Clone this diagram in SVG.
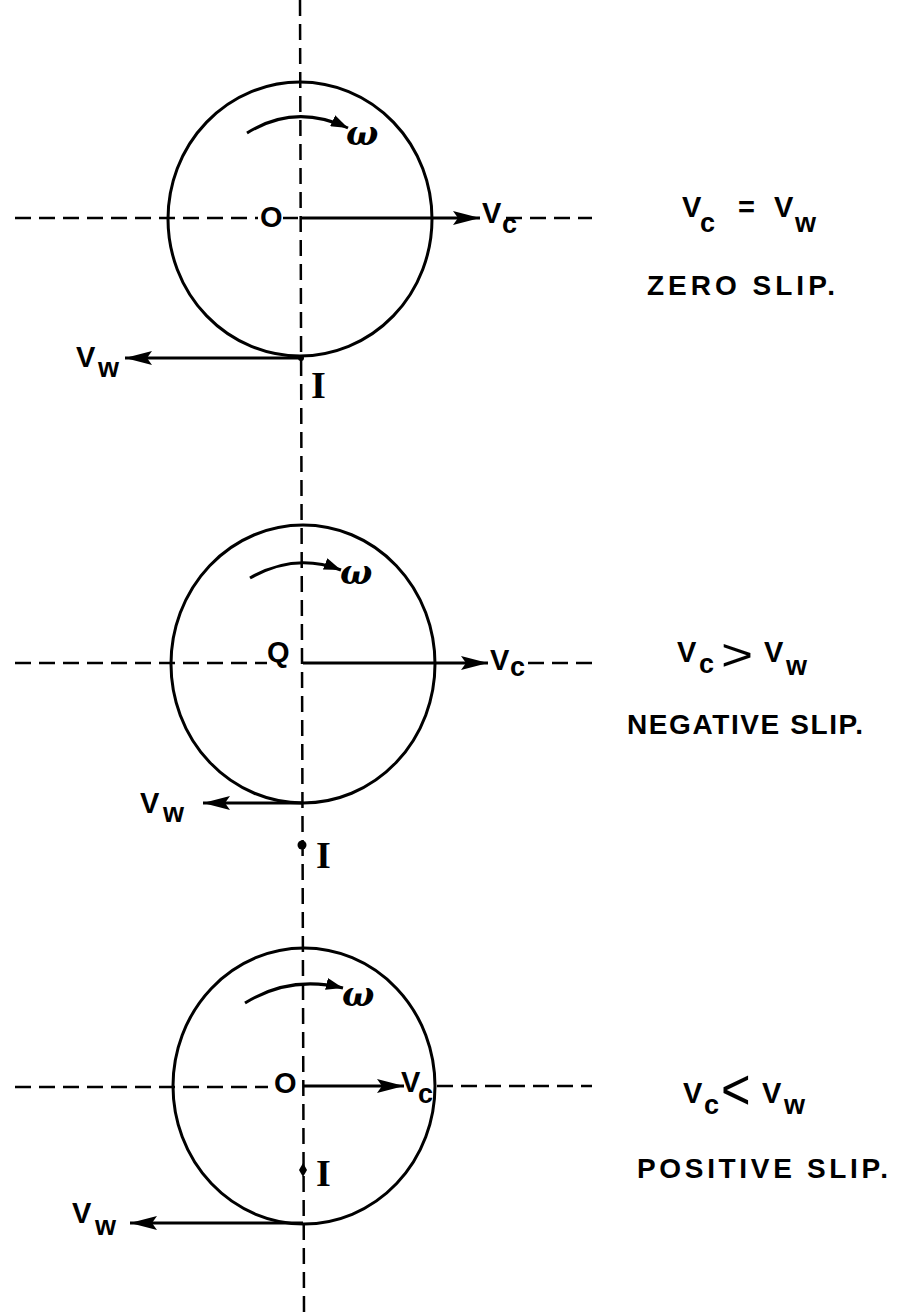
<svg xmlns="http://www.w3.org/2000/svg" width="897" height="1313" viewBox="0 0 897 1313">
<style>
.wheel{fill:none;stroke:#000;stroke-width:3}
.dash{fill:none;stroke:#000;stroke-width:2.5;stroke-dasharray:16 8}
.vec{fill:none;stroke:#000;stroke-width:3;marker-end:url(#ah)}
.rot{fill:none;stroke:#000;stroke-width:3;marker-end:url(#ahs)}
.lbl{font-family:"Liberation Sans",Arial,sans-serif;font-weight:bold;font-size:29px;fill:#000}
.sub{font-family:"Liberation Sans",Arial,sans-serif;font-weight:bold;font-size:27px;fill:#000}
.ser{font-family:"Liberation Serif","Times New Roman",serif;font-weight:bold;font-size:38px;fill:#000}
.om{font-family:"DejaVu Serif",serif;font-style:italic;font-weight:bold;font-size:34px;fill:#000}
.cap{font-family:"Liberation Sans",Arial,sans-serif;font-weight:bold;font-size:28px;fill:#000}
.rel{font-family:"Liberation Sans",Arial,sans-serif;font-size:44px;fill:#000}
</style>
<defs>
<marker id="ah" markerUnits="userSpaceOnUse" markerWidth="28" markerHeight="16" refX="27" refY="8" orient="auto"><path d="M0,1 L27,8 L0,15 L5,8 z" fill="#000"/></marker>
<marker id="ahs" markerUnits="userSpaceOnUse" markerWidth="18" markerHeight="12" refX="17" refY="6" orient="auto"><path d="M0,0 L17,6 L0,12 z" fill="#000"/></marker>
</defs>
<rect width="897" height="1313" fill="#fff"/>
<g id="connectors">
<path class="dash" d="M300,0 L304,1313"/>
<path class="dash" d="M15,218 H258 M283,218 H298"/>
<path class="dash" d="M506,218 H592"/>
<path class="dash" d="M15,663 H267"/>
<path class="dash" d="M528,663 H592"/>
<path class="dash" d="M15,1087 H268 M437,1086 H592"/>
</g>
<g id="wheel-zero">
<ellipse class="wheel" cx="300" cy="219" rx="132" ry="137"/>
<path class="rot" d="M247,133 Q295,103 348,128"/>
<text class="om" x="346" y="145">ω</text>
<text class="lbl" x="260" y="227">O</text>
<path class="vec" d="M300,218 H480"/>
<text class="lbl" x="482" y="223">V</text><text class="sub" x="502" y="233">c</text>
<path class="vec" d="M300,358 H125"/>
<text class="lbl" x="76" y="367">V</text><text class="sub" x="98" y="377">w</text>
<circle cx="301" cy="358" r="3"/>
<text class="ser" x="311" y="398">I</text>
</g>
<g id="wheel-negative">
<ellipse class="wheel" cx="303" cy="664" rx="132" ry="139"/>
<path class="rot" d="M250,578 Q295,552 341,570"/>
<text class="om" x="340" y="584">ω</text>
<text class="lbl" x="267" y="662">Q</text>
<path class="vec" d="M303,663 H488"/>
<text class="lbl" x="490" y="670">V</text><text class="sub" x="510" y="676">c</text>
<path class="vec" d="M303,803 H203"/>
<text class="lbl" x="140" y="813">V</text><text class="sub" x="163" y="822">w</text>
<circle cx="302" cy="845" r="4.5"/>
<text class="ser" x="316" y="868">I</text>
</g>
<g id="wheel-positive">
<ellipse class="wheel" cx="304" cy="1086" rx="131" ry="138"/>
<path class="rot" d="M245,1003 Q290,975 343,988"/>
<text class="om" x="342" y="1006">ω</text>
<text class="lbl" x="274" y="1093">O</text>
<path class="vec" d="M303,1086 H404"/>
<text class="lbl" x="401" y="1092">V</text><text class="sub" x="418" y="1103">c</text>
<path class="vec" d="M303,1223 H130"/>
<text class="lbl" x="72" y="1223">V</text><text class="sub" x="95" y="1235">w</text>
<path d="M303,1163 L307,1170 L303,1177 L299,1170 z" fill="#000"/>
<text class="ser" x="316" y="1186">I</text>
</g>
<g id="label-zero">
<text class="lbl" x="682" y="217">V</text><text class="sub" x="700" y="232">c</text>
<text class="lbl" x="738" y="217">=</text>
<text class="lbl" x="774" y="217">V</text><text class="sub" x="795" y="232">w</text>
<text class="cap" x="647" y="295" textLength="188" lengthAdjust="spacing">ZERO  SLIP.</text>
</g>
<g id="label-negative">
<text class="lbl" x="677" y="662">V</text><text class="sub" x="699" y="673">c</text>
<text class="rel" transform="translate(721,670) scale(1.25,1)">&gt;</text>
<text class="lbl" x="764" y="662">V</text><text class="sub" x="786" y="675">w</text>
<text class="cap" x="627" y="734" textLength="236" lengthAdjust="spacing">NEGATIVE  SLIP.</text>
</g>
<g id="label-positive">
<text class="lbl" x="683" y="1103">V</text><text class="sub" x="704" y="1114">c</text>
<text class="rel" transform="translate(721,1109) scale(1.15,1.3)">&lt;</text>
<text class="lbl" x="762" y="1103">V</text><text class="sub" x="784" y="1114">w</text>
<text class="cap" x="637" y="1178" textLength="251" lengthAdjust="spacing">POSITIVE  SLIP.</text>
</g>
</svg>
